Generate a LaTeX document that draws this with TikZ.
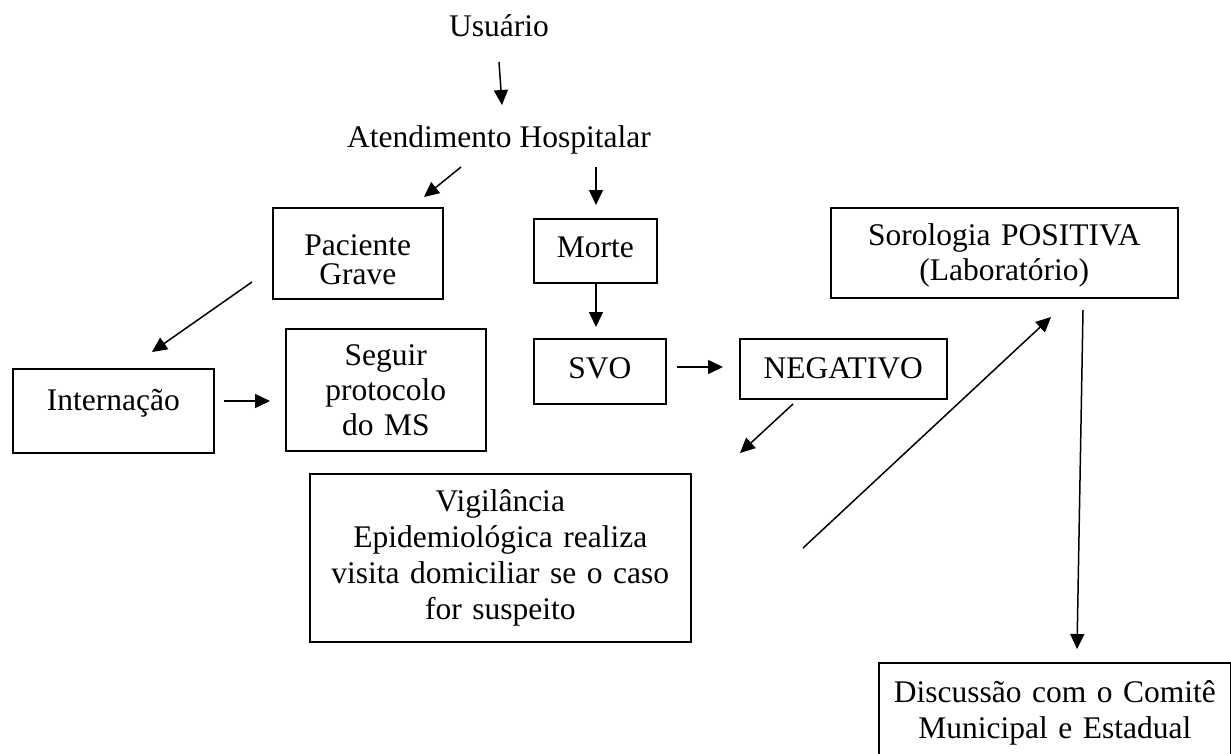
\documentclass[tikz,border=0pt]{standalone}
\usepackage{fontspec}
\setmainfont{Liberation Serif}
\usetikzlibrary{arrows.meta}
\begin{document}
\begin{tikzpicture}[x=1pt,y=-1pt,
  box/.style={draw,line width=1.6pt,anchor=north west,inner sep=0pt,align=center,font=\fontsize{31.5}{35.5}\selectfont},
  plain/.style={inner sep=0pt,anchor=base,font=\fontsize{31.5}{35.5}\selectfont},
  arr/.style={line width=1.5pt,-{Triangle[length=15pt,width=14pt]}}]
\useasboundingbox (0,0) rectangle (1231,753);
% plain texts
\node[plain] (usu) at (499,36) {Usuário};
\node[plain] (atd) at (499,147) {Atendimento Hospitalar};
% boxes
\node[box,font=\fontsize{31.5}{29}\selectfont,text width=170pt,text height=48pt,text depth=43pt] (pac) at (272,207) {Paciente\\Grave};
\node[box,text width=201pt,text height=42pt,text depth=42pt] (int) at (12,368) {Internação};
\node[box,font=\fontsize{31.5}{35}\selectfont,text width=200pt,text height=37pt,text depth=85pt] (seg) at (285,328) {Seguir\\protocolo\\do MS};
\node[box,text width=123pt,text height=39pt,text depth=25pt] (mor) at (533,218) {Morte};
\node[box,text width=132pt,text height=40pt,text depth=25pt] (svo) at (533,338) {SVO};
\node[box,text width=207pt,text height=40pt,text depth=20pt] (neg) at (739,338) {NEGATIVO};
\node[box,font=\fontsize{31.5}{35}\selectfont,text width=347pt,text height=38pt,text depth=52pt] (sor) at (830,207) {Sorologia POSITIVA\\(Laboratório)};
\node[box,font=\fontsize{31.5}{36}\selectfont,text width=381pt,text height=38pt,text depth=130pt] (vig) at (309,473) {Vigilância\\Epidemiológica realiza\\visita domiciliar se o caso\\for suspeito};
\node[box,font=\fontsize{31.5}{36}\selectfont,text width=352pt,text height=40pt,text depth=100pt] (dis) at (878,662) {Discussão com o Comitê\\Municipal e Estadual};
% arrow end points
\coordinate (p1) at (499,62);   \coordinate (q1) at (502,105);
\coordinate (p2) at (461,167);  \coordinate (q2) at (424,197);
\coordinate (p3) at (596,167);  \coordinate (q3) at (596,205);
\coordinate (p4) at (596,282);  \coordinate (q4) at (596,327);
\coordinate (p5) at (252,282);  \coordinate (q5) at (152,352);
\coordinate (p6) at (224,401);  \coordinate (q6) at (270,401);
\coordinate (p7) at (677,367);  \coordinate (q7) at (723,367);
\coordinate (p8) at (793,404);  \coordinate (q8) at (740,453);
\coordinate (p9) at (803,548);  \coordinate (q9) at (1051,317);
\coordinate (p10) at (1083,310); \coordinate (q10) at (1077,649);
\draw[arr] (p1) -- (q1);
\draw[arr] (p2) -- (q2);
\draw[arr] (p3) -- (q3);
\draw[arr] (p4) -- (q4);
\draw[arr] (p5) -- (q5);
\draw[arr] (p6) -- (q6);
\draw[arr] (p7) -- (q7);
\draw[arr] (p8) -- (q8);
\draw[arr] (p9) -- (q9);
\draw[arr] (p10) -- (q10);
\end{tikzpicture}
\end{document}
